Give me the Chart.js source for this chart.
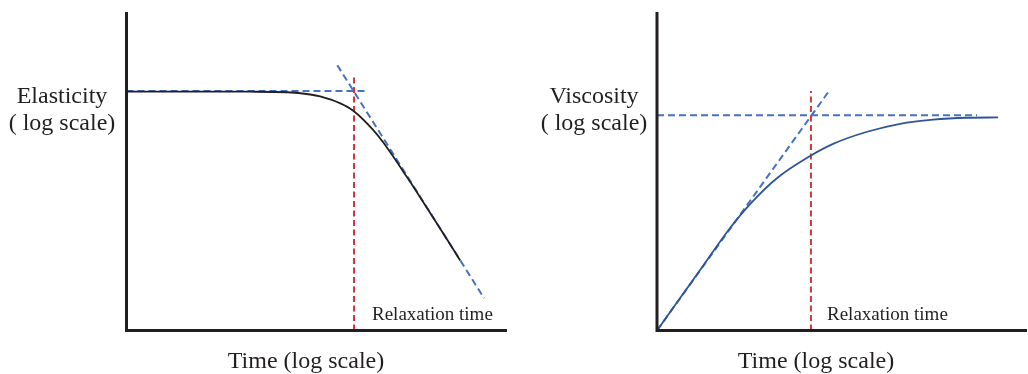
<!DOCTYPE html>
<html>
<head>
<meta charset="utf-8">
<script src="https://cdn.jsdelivr.net/npm/chart.js@4/dist/chart.umd.min.js"></script>
<style>
  html, body { margin: 0; padding: 0; background: #fff; }
  #wrap { position: relative; width: 1028px; height: 374px; }
  .panel { position: absolute; top: 0; width: 514px; height: 374px; }
  #left { left: 0; }
  #right { left: 514px; }
</style>
</head>
<body>
<div id="wrap">
  <div class="panel" id="left"><canvas id="elasticityChart"></canvas></div>
  <div class="panel" id="right"><canvas id="viscosityChart"></canvas></div>
</div>
<script>
// Both panels use arbitrary log units, 0-100 on each axis

// Elasticity vs time
const elTime  = [0, 19.4, 32.5, 42.3, 48.3, 50.9, 56.2, 59.6, 64.8, 67.5, 73.8, 79.0, 84.3, 87.7];
const elValue = [75.0, 75.0, 74.97, 74.8, 74.1, 73.5, 71.3, 69.0, 63.0, 59.0, 48.0, 38.4, 28.5, 22.0];
const elPlateauX = [0, 63.5];
const elPlateauY = [75.2, 75.2];
const elTangentX = [55.4, 94.0];
const elTangentY = [83.3, 10.1];
const elRelaxX = [59.8, 59.8];
const elRelaxY = [0, 79.6];

// Viscosity vs time
const viTime  = [0, 11.6, 19.7, 25.1, 32.4, 41.4, 47.6, 56.8, 65.7, 74.6, 83.8, 92.2];
const viValue = [0, 18.9, 32.1, 39.6, 47.8, 54.8, 58.6, 62.4, 64.9, 66.2, 66.8, 66.9];
const viPlateauX = [0, 86.5];
const viPlateauY = [67.6, 67.6];
const viTangentX = [0, 46.5];
const viTangentY = [0, 75.2];
const viRelaxX = [41.6, 41.6];
const viRelaxY = [0, 75.2];

const INK = '#231f20';
const DASH_BLUE = '#4472c4';
const DASH_RED = '#d0353c';

function pts(xs, ys) {
    return xs.map((x, i) => ({ x: x, y: ys[i] }));
}

function dashed(xs, ys, color, dash) {
    return {
        data: pts(xs, ys),
        borderColor: color,
        borderWidth: 2,
        borderDash: dash,
        pointRadius: 0,
        tension: 0
    };
}

// axis lines plus the free-standing labels
const panelDecor = {
    id: 'panelDecor',
    afterDraw(chart, args, opts) {
        const ctx = chart.ctx;
        const a = chart.chartArea;
        ctx.save();
        ctx.strokeStyle = INK;
        ctx.lineWidth = 3;
        ctx.beginPath();
        ctx.moveTo(a.left, a.top);
        ctx.lineTo(a.left, a.bottom);
        ctx.lineTo(a.right, a.bottom);
        ctx.stroke();

        ctx.fillStyle = INK;
        ctx.textBaseline = 'alphabetic';
        opts.labels.forEach(l => {
            ctx.font = l.size + 'px "Liberation Serif", "Times New Roman", serif';
            ctx.textAlign = l.align;
            ctx.fillText(l.text, l.x, l.y);
        });
        ctx.restore();
    }
};

function makeChart(id, curve, curveColor, guides, padding, labels) {
    return new Chart(document.getElementById(id), {
        type: 'line',
        data: {
            datasets: [
                {
                    data: curve,
                    borderColor: curveColor,
                    borderWidth: 1.8,
                    pointRadius: 0,
                    cubicInterpolationMode: 'monotone'
                }
            ].concat(guides)
        },
        options: {
            responsive: true,
            maintainAspectRatio: false,
            animation: false,
            layout: { padding: padding },
            scales: {
                x: { type: 'linear', min: 0, max: 100, display: false },
                y: { type: 'linear', min: 0, max: 100, display: false }
            },
            plugins: {
                legend: { display: false },
                tooltip: { enabled: false },
                panelDecor: { labels: labels }
            }
        },
        plugins: [panelDecor]
    });
}

makeChart('elasticityChart',
    pts(elTime, elValue), INK,
    [
        dashed(elRelaxX, elRelaxY, DASH_RED, [6, 3.5]),
        dashed(elPlateauX, elPlateauY, DASH_BLUE, [7, 4]),
        dashed(elTangentX, elTangentY, DASH_BLUE, [7, 4])
    ],
    { left: 126.5, top: 12, right: 7, bottom: 43.5 },
    [
        { text: 'Elasticity', x: 62, y: 103, size: 24, align: 'center' },
        { text: '( log scale)', x: 62, y: 130, size: 24, align: 'center' },
        { text: 'Time (log scale)', x: 306, y: 368, size: 24, align: 'center' },
        { text: 'Relaxation time', x: 372, y: 320, size: 19, align: 'left' }
    ]
);

makeChart('viscosityChart',
    pts(viTime, viValue), '#2f5597',
    [
        dashed(viRelaxX, viRelaxY, DASH_RED, [6, 3.5]),
        dashed(viPlateauX, viPlateauY, DASH_BLUE, [7, 4]),
        dashed(viTangentX, viTangentY, DASH_BLUE, [7, 4])
    ],
    { left: 143, top: 12, right: 1, bottom: 43.5 },
    [
        { text: 'Viscosity', x: 80, y: 103, size: 24, align: 'center' },
        { text: '( log scale)', x: 80, y: 130, size: 24, align: 'center' },
        { text: 'Time (log scale)', x: 302, y: 368, size: 24, align: 'center' },
        { text: 'Relaxation time', x: 313, y: 320, size: 19, align: 'left' }
    ]
);
</script>
</body>
</html>
